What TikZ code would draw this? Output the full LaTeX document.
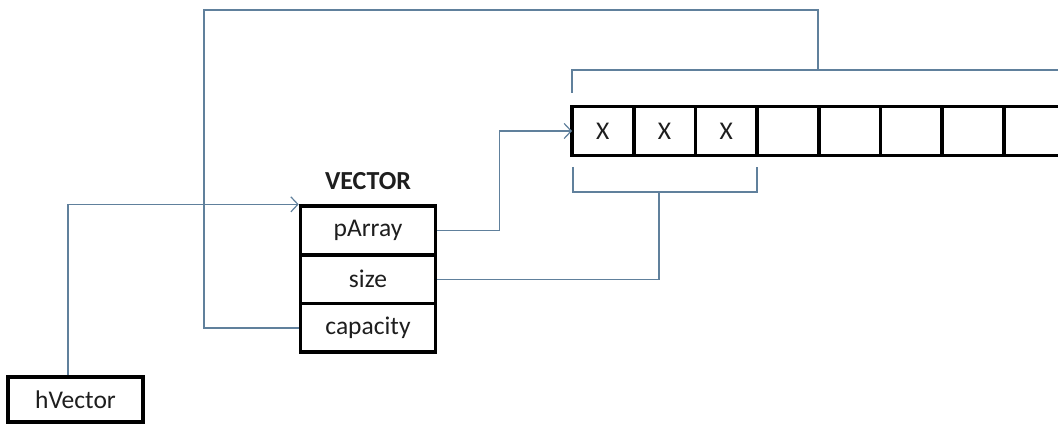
\documentclass[tikz,border=0pt]{standalone}
\usepackage{fontspec}
\setmainfont{Carlito}
\usetikzlibrary{arrows.meta,calc}
\definecolor{conncol}{RGB}{96,128,156}
\definecolor{txt}{RGB}{30,30,30}
\tikzset{
  box/.style={draw=black, line width=3.6pt, rectangle, inner sep=0pt, text=txt, font=\fontsize{25.5}{30}\selectfont},
  cell/.style={box, outer sep=0pt, minimum width=61.7pt, minimum height=49pt},
  field/.style={box, minimum width=135pt, minimum height=48.7pt},
  conn/.style={draw=conncol, line width=1.3pt},
  tip/.style={-{Straight Barb[length=7pt,width=15pt,line width=1.2pt]}}
}
\begin{document}
\begin{tikzpicture}[x=1pt,y=-1pt]
\useasboundingbox[fill=white] (0,0) rectangle (1058,430);
% hVector
\node[box, minimum width=135pt, minimum height=45pt] (hv) at (75.5,399.5) {hVector};
% VECTOR struct
\node[font=\fontsize{26}{30}\selectfont\bfseries, text=txt] (title) at (368,181) {VECTOR};
\node[field] (pa) at (368,230.5) {pArray};
\node[field] (sz) at (368,279.2) {size};
\node[field] (cap) at (368,327.9) {capacity};
% array cells
\foreach \i/\t in {1/X,2/X,3/X,4/,5/,6/,7/}{
  \node[cell] (c\i) at ({572+61.7*(\i-0.5)},131) {\t};
}
\coordinate (rend) at (1062,0);
\draw[line width=3.6pt] (c7.north east) -- (c7.north east -| rend);
\draw[line width=3.6pt] (c7.south east) -- (c7.south east -| rend);
% brackets
\coordinate (sb1) at (573,167);
\coordinate (sb2) at (757,167);
\coordinate (sbm) at (659,192);
\draw[conn] (sb1) |- (sb2 |- sbm) -- (sb2);
\coordinate (cb1) at (572,93);
\coordinate (cb2) at (1060,70);
\coordinate (cbm) at (818,70);
\draw[conn] (cb1) |- (cb2);
% connectors
\coordinate (hvx) at (68,0);
\draw[conn,tip] (hv.north -| hvx) |- (pa.north west);
\draw[conn,tip] (pa.east) -- ++(62,0) |- (c1.west);
\draw[conn] (sz.east) -| (sbm);
\coordinate (capx) at (204,10);
\draw[conn] (cap.west) -| (capx) -| (cbm);
\end{tikzpicture}
\end{document}
